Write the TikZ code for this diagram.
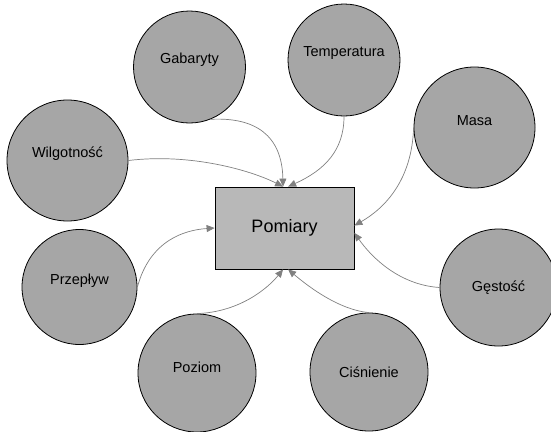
\documentclass[tikz,border=0pt]{standalone}
\usepackage{fontspec}
\setmainfont{Liberation Sans}
\usetikzlibrary{arrows.meta}
\definecolor{circfill}{HTML}{A6A6A6}
\definecolor{rectfill}{HTML}{B8B8B8}
\definecolor{arrowgray}{HTML}{808080}
\tikzset{
  bubble/.style={circle, draw=black, line width=0.8pt, fill=circfill, inner sep=0pt},
  bubtext/.style={font=\fontsize{14.5}{17}\selectfont},
  mainbox/.style={rectangle, draw=black, line width=0.8pt, fill=rectfill, inner sep=0pt,
    minimum width=139pt, minimum height=82pt, font=\fontsize{18}{21}\selectfont},
  link/.style={draw=arrowgray, line width=0.7pt, -{Triangle[length=8pt,width=7pt]}}
}
\begin{document}
\begin{tikzpicture}[x=1pt,y=-1pt]
\useasboundingbox (0,0) rectangle (551,431);
\node[mainbox] (pom) at (284.5,228) {Pomiary};
\node[bubble, minimum size=112pt, label={[bubtext,yshift=7pt]center:Gabaryty}] (gab) at (189.5,67) {};
\node[bubble, minimum size=112pt, label={[bubtext,yshift=7pt]center:Temperatura}] (tem) at (344,60) {};
\node[bubble, minimum size=121pt, label={[bubtext,yshift=7pt]center:Masa}] (mas) at (474.5,127.5) {};
\node[bubble, minimum size=121pt, label={[bubtext,yshift=7pt]center:Wilgotność}] (wil) at (67.5,160.5) {};
\node[bubble, minimum size=115pt, label={[bubtext,yshift=6pt]center:Przepływ}] (prz) at (79.5,287) {};
\node[bubble, minimum size=117pt, label={[bubtext]center:Gęstość}] (ges) at (498.5,287.5) {};
\node[bubble, minimum size=118pt, label={[bubtext,yshift=6pt]center:Poziom}] (poz) at (197,373) {};
\node[bubble, minimum size=118pt, label={[bubtext]center:Ciśnienie}] (cis) at (369,372) {};
\draw[link] (gab.-68) .. controls (255,117) and (282,135) .. (pom.92);
\draw[link] (tem.south) .. controls (344,150) and (325,170) .. (pom.85);
\draw[link] (wil.east) .. controls (190,153) and (250,170) .. (pom.92);
\draw[link] (prz.east) .. controls (150,240) and (185,230) .. (pom.west);
\draw[link] (mas.west) .. controls (412,180) and (385,208) .. (pom.2.5);
\draw[link] (ges.west) .. controls (400,285) and (372,258) .. (pom.-4);
\draw[link] (poz.north) .. controls (240,312) and (268,288) .. (pom.-92);
\draw[link] (cis.north) .. controls (340,310) and (310,288) .. (pom.-85);
\end{tikzpicture}
\end{document}
